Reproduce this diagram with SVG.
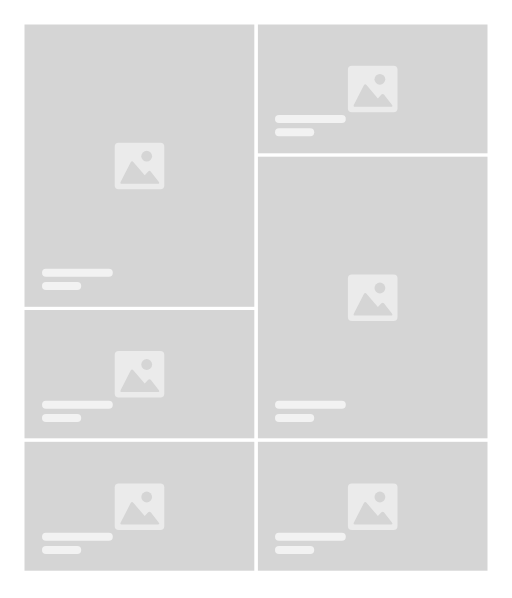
<svg xmlns="http://www.w3.org/2000/svg" width="512" height="598" viewBox="0 0 512 598">
<style>
.bg{fill:#d5d5d5}
.fr{fill:#ebebeb}
.ic{fill:#d5d5d5}
.bar{fill:#f2f2f2}
</style>
<defs>
<g id="icon">
<rect class="fr" x="0" y="0" width="49.600" height="46.500" rx="4"/>
<circle class="ic" cx="32" cy="13.500" r="5.400"/>
<path class="ic" d="M7 41 Q5 41 6 39 L16 19.500 Q17.300 17.500 18.800 19.500 L30 32.600 L33.500 28.800 Q34.700 27.500 36 28.800 L44 39 Q45.500 41 43 41 Z"/>
</g>
<g id="lines">
<rect class="bar" x="0" y="0" width="70.800" height="8" rx="4"/>
<rect class="bar" x="0" y="13.300" width="39.200" height="8" rx="4"/>
</g>
</defs>
<rect width="512" height="598" fill="#fff"/>
<g id="tile-1"><rect class="bg" x="24.500" y="24.500" width="229.800" height="282.300"/><use href="#icon" x="114.700" y="142.700"/><use href="#lines" x="42" y="268.700"/></g>
<g id="tile-2"><rect class="bg" x="24.500" y="310" width="229.800" height="128.300"/><use href="#icon" x="114.700" y="351"/><use href="#lines" x="42" y="400.800"/></g>
<g id="tile-3"><rect class="bg" x="24.500" y="441.800" width="229.800" height="128.900"/><use href="#icon" x="114.700" y="483.500"/><use href="#lines" x="42" y="532.800"/></g>
<g id="tile-4"><rect class="bg" x="257.900" y="24.500" width="229.600" height="128.800"/><use href="#icon" x="347.900" y="65.800"/><use href="#lines" x="275" y="115"/></g>
<g id="tile-5"><rect class="bg" x="257.900" y="156.700" width="229.600" height="281.600"/><use href="#icon" x="347.900" y="274.500"/><use href="#lines" x="275" y="400.800"/></g>
<g id="tile-6"><rect class="bg" x="257.900" y="441.800" width="229.600" height="128.900"/><use href="#icon" x="347.900" y="483.500"/><use href="#lines" x="275" y="532.800"/></g>
</svg>
